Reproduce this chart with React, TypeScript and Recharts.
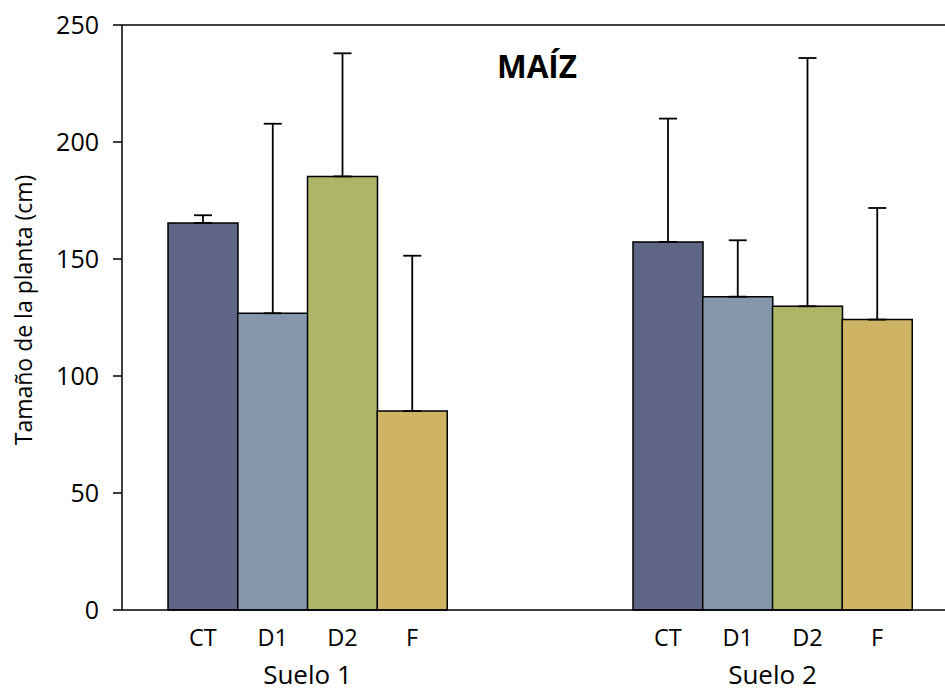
import React from "react";
import {
  BarChart,
  Bar,
  Cell,
  XAxis,
  YAxis,
  ErrorBar,
  ReferenceLine,
} from "recharts";

// === data ===
const treatments = ["CT", "D1", "D2", "F"];
const suelo1 = [165.4, 126.8, 185.3, 85.0];
const suelo1Err = [3.3, 81.0, 52.6, 66.4];
const suelo2 = [157.3, 133.9, 129.8, 124.1];
const suelo2Err = [52.7, 24.1, 106.1, 47.7];
const groupNames = ["Suelo 1", "Suelo 2"];
const yTicks = [0, 50, 100, 150, 200, 250];

const colors = ["#5E6587", "#8497AD", "#AEB566", "#CFB466"];
const FONT = "'Open Sans', sans-serif";

const data = treatments.map((t, i) => ({
  name: t,
  s1: suelo1[i],
  s1err: [0, suelo1Err[i]],
  s2: suelo2[i],
  s2err: [0, suelo2Err[i]],
}));

const BAND = 69.75;

// tick label + group label under D1/D2
const makeTick = (group: string, base: number) => (props: any) => {
  const { x, payload, index } = props;
  return (
    <g>
      <text x={x} y={base + 36} textAnchor="middle" fontSize={23.5} fontFamily={FONT} fill="#000">
        {payload.value}
      </text>
      {index === 1 && (
        <text x={x + BAND / 2} y={base + 74} textAnchor="middle" fontSize={26} fontFamily={FONT} fill="#000">
          {group}
        </text>
      )}
    </g>
  );
};

export default function App() {
  return (
    <div style={{ position: "absolute", left: 0, top: 0, width: 945, height: 693 }}>
      <BarChart
        width={945}
        height={693}
        data={data}
        margin={{ top: 25, right: 0, bottom: 1, left: 0 }}
        barCategoryGap={0}
        barGap={0}
      >
        <XAxis
          xAxisId="a"
          dataKey="name"
          height={41}
          padding={{ left: 46, right: 498 }}
          axisLine={{ stroke: "#000", strokeWidth: 1.5 }}
          tickLine={false}
          tickSize={0}
          tickMargin={0}
          interval={0}
          tick={makeTick(groupNames[0], 610)}
        />
        <XAxis
          xAxisId="b"
          dataKey="name"
          height={41}
          padding={{ left: 511, right: 33 }}
          axisLine={false}
          tickLine={false}
          tickSize={0}
          tickMargin={0}
          interval={0}
          tick={makeTick(groupNames[1], 610)}
        />
        <YAxis
          width={122}
          domain={[0, 250]}
          ticks={yTicks}
          interval={0}
          axisLine={{ stroke: "#000", strokeWidth: 1.5 }}
          tickLine={{ stroke: "#000", strokeWidth: 1.5 }}
          tickSize={9}
          tickMargin={14}
          tick={{ fill: "#000", fontSize: 25, fontFamily: FONT }}
        />
        <ReferenceLine xAxisId="a" y={250} stroke="#000" strokeWidth={1.5} />
        <Bar xAxisId="a" dataKey="s1" stroke="#000" strokeWidth={1.5} isAnimationActive={false}>
          {data.map((d, i) => (
            <Cell key={d.name} fill={colors[i]} />
          ))}
          <ErrorBar dataKey="s1err" width={9} stroke="#000" strokeWidth={1.8} direction="y" />
        </Bar>
        <Bar xAxisId="b" dataKey="s2" stroke="#000" strokeWidth={1.5} isAnimationActive={false}>
          {data.map((d, i) => (
            <Cell key={d.name} fill={colors[i]} />
          ))}
          <ErrorBar dataKey="s2err" width={9} stroke="#000" strokeWidth={1.8} direction="y" />
        </Bar>
        <text x={537} y={78} textAnchor="middle" fontSize={31.5} fontWeight="bold" fontFamily={FONT} fill="#000">
          MAÍZ
        </text>
        <text
          x={23}
          y={310}
          transform="rotate(-90 23 310)"
          textAnchor="middle"
          dominantBaseline="central"
          fontSize={23}
          fontFamily={FONT}
          fill="#000"
        >
          Tamaño de la planta (cm)
        </text>
      </BarChart>
    </div>
  );
}
